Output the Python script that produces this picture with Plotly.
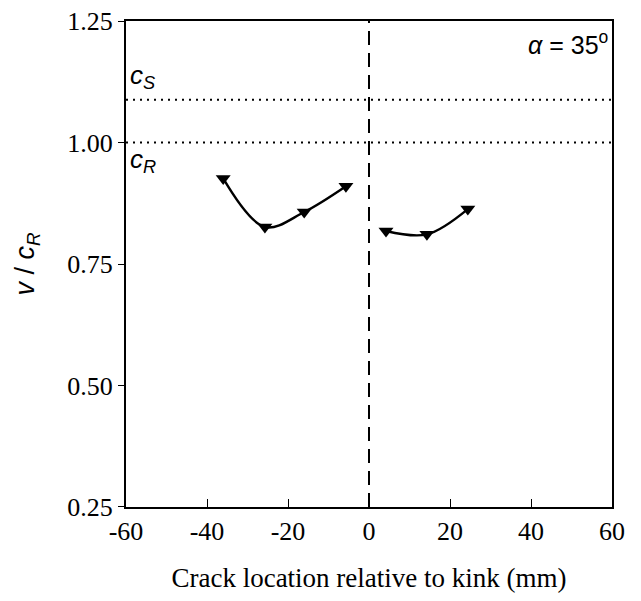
import plotly.graph_objects as go

left_x = [-36, -25.7, -16, -5.7]
left_v = [0.926, 0.826, 0.857, 0.91]
right_x = [4.2, 14.3, 24.4]
right_v = [0.818, 0.811, 0.863]
cs_level = 1.088
cr_level = 1.0
x_ticks = [-60, -40, -20, 0, 20, 40, 60]
y_ticks = [0.25, 0.50, 0.75, 1.00, 1.25]

fig = go.Figure()
for xs, vs in [(left_x, left_v), (right_x, right_v)]:
    fig.add_trace(go.Scatter(
        x=xs, y=vs, mode="lines+markers",
        line=dict(color="black", width=2.4, shape="spline", smoothing=1.0),
        marker=dict(symbol="triangle-down", size=13, color="black"),
        showlegend=False, cliponaxis=False))

fig.add_hline(y=cs_level, line=dict(color="black", width=2, dash="2px,5px"))
fig.add_hline(y=cr_level, line=dict(color="black", width=2, dash="2px,5px"))
fig.add_vline(x=0, line=dict(color="black", width=2, dash="14px,8px"))

sans = "Liberation Sans, Arial, sans-serif"
serif = "Liberation Serif, Times New Roman, serif"
fig.add_annotation(x=-60, y=1.135, xref="x", yref="y", xanchor="left", yanchor="middle",
                   text="<i>c</i><sub><i>S</i></sub>", showarrow=False,
                   font=dict(family=sans, size=26, color="black"), xshift=2)
fig.add_annotation(x=-60, y=0.962, xref="x", yref="y", xanchor="left", yanchor="middle",
                   text="<i>c</i><sub><i>R</i></sub>", showarrow=False,
                   font=dict(family=sans, size=26, color="black"), xshift=2)
fig.add_annotation(x=60, y=1.205, xref="x", yref="y", xanchor="right", yanchor="middle",
                   text="<i>α</i> = 35<sup>o</sup>", showarrow=False,
                   font=dict(family=sans, size=25, color="black"), xshift=-2)

fig.update_layout(
    width=625, height=585,
    margin=dict(l=118, r=21, t=13, b=86),
    plot_bgcolor="white", paper_bgcolor="white",
    xaxis=dict(range=[-60.0001, 60.0001], tickvals=x_ticks, ticktext=[str(t) for t in x_ticks],
               ticks="inside", ticklen=8, tickwidth=1, tickcolor="black",
               showline=True, linecolor="black", linewidth=2, mirror=True,
               showgrid=False, zeroline=False, ticklabeloverflow="allow", automargin=False,
               tickfont=dict(family=serif, size=26, color="black"),
               title=dict(text="Crack location relative to kink (mm)", standoff=38,
                          font=dict(family=serif, size=27, color="black"))),
    yaxis=dict(range=[0.2499, 1.2501], tickvals=y_ticks, ticktext=[f"{t:.2f}" for t in y_ticks],
               ticks="outside", ticklen=6, tickwidth=1, tickcolor="black",
               showline=True, linecolor="black", linewidth=2, mirror=True,
               showgrid=False, zeroline=False, ticklabeloverflow="allow", automargin=False,
               tickfont=dict(family=serif, size=26, color="black"),
               title=dict(text="<i>v</i> / <i>c</i><sub><i>R</i></sub>", standoff=25,
                          font=dict(family=sans, size=27, color="black"))),
)
fig.write_html("out.html")
